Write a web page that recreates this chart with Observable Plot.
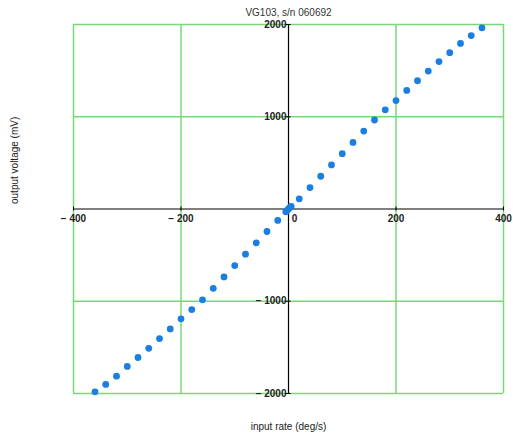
<!DOCTYPE html>
<html>
<head>
<meta charset="utf-8">
<script src="https://cdn.jsdelivr.net/npm/d3@7"></script>
<script src="https://cdn.jsdelivr.net/npm/@observablehq/plot@0.6"></script>
<style>
  html, body { margin: 0; padding: 0; background: #fff; }
  svg { display: block; }
</style>
</head>
<body>
<div id="chart"></div>
<script>
const title = "VG103, s/n 060692";
const xLabel = "input rate (deg/s)";
const yLabel = "output voltage (mV)";

const rates = [-360,-340,-320,-300,-280,-260,-240,-220,-200,-180,-160,-140,-120,-100,-80,-60,-40,-20,-5,-2.5,0,2.5,5,20,40,60,80,100,120,140,160,180,200,220,240,260,280,300,320,340,360];
const voltages = [-1982,-1902,-1812,-1707,-1610,-1510,-1405,-1300,-1190,-1090,-985,-860,-736,-613,-490,-367,-244,-124,-30,-15,0,15,28,110,232,355,478,600,722,845,965,1075,1175,1285,1390,1495,1598,1695,1795,1880,1964];

const xTicks = [-400,-200,200,400];
const xTickLabels = ["\u2212 400","\u2212 200","200","400"];
const zeroLabel = "0";
const yTicks = [2000,1000,-1000,-2000];
const yTickLabels = ["2000","1000","\u2212 1000","\u2212 2000"];
const xGrid = [-400,-200,200,400];
const yGrid = [2000,1000,-1000,-2000];

const points = rates.map((r, i) => ({rate: r, mv: voltages[i]}));
const xt = xTicks.map((v, i) => ({v, label: xTickLabels[i]}));
const yt = yTicks.map((v, i) => ({v, label: yTickLabels[i]}));

const green = "#78d878";
const font = "Liberation Sans, Arial, sans-serif";

const chart = Plot.plot({
  width: 513,
  height: 437,
  marginLeft: 73,
  marginRight: 10,
  marginTop: 24,
  marginBottom: 44,
  style: {fontFamily: font, background: "#fff"},
  x: {domain: [-400, 400], axis: null},
  y: {domain: [-2000, 2000], axis: null},
  marks: [
    Plot.ruleX(xGrid, {stroke: green, strokeWidth: 1.5}),
    Plot.ruleY(yGrid, {stroke: green, strokeWidth: 1.5}),
    Plot.ruleY([0], {stroke: "#000", strokeWidth: 1.2}),
    Plot.ruleX([0], {stroke: "#000", strokeWidth: 1.2}),
    Plot.ruleX([...xTicks, 0], {y1: -22, y2: 22, stroke: "#000", strokeWidth: 1}),
    Plot.ruleY(yTicks, {x1: -6, x2: 5, stroke: "#000", strokeWidth: 1}),
    Plot.text(xt, {x: "v", y: 0, text: "label", dy: 10, fontSize: 10, fontWeight: "bold", fill: "#222"}),
    Plot.text([zeroLabel], {x: 0, y: 0, text: d => d, dy: 10, dx: 6, fontSize: 10, fontWeight: "bold", fill: "#222"}),
    Plot.dot(points, {x: "rate", y: "mv", r: 3.4, fill: "#1a7fe0", stroke: "none"}),
    Plot.text(yt, {x: 0, y: "v", text: "label", dx: -2, textAnchor: "end", fontSize: 10, fontWeight: "bold", fill: "#222"}),
    Plot.text([title], {frameAnchor: "top", lineAnchor: "middle", dy: -12, fontSize: 10, fill: "#333"}),
    Plot.text([xLabel], {frameAnchor: "bottom", lineAnchor: "middle", dy: 33, fontSize: 10, fill: "#222"}),
    Plot.text([yLabel], {frameAnchor: "left", dx: -59, dy: -5, rotate: -90, fontSize: 10, fill: "#222"})
  ]
});
document.getElementById("chart").appendChild(chart);
</script>
</body>
</html>
